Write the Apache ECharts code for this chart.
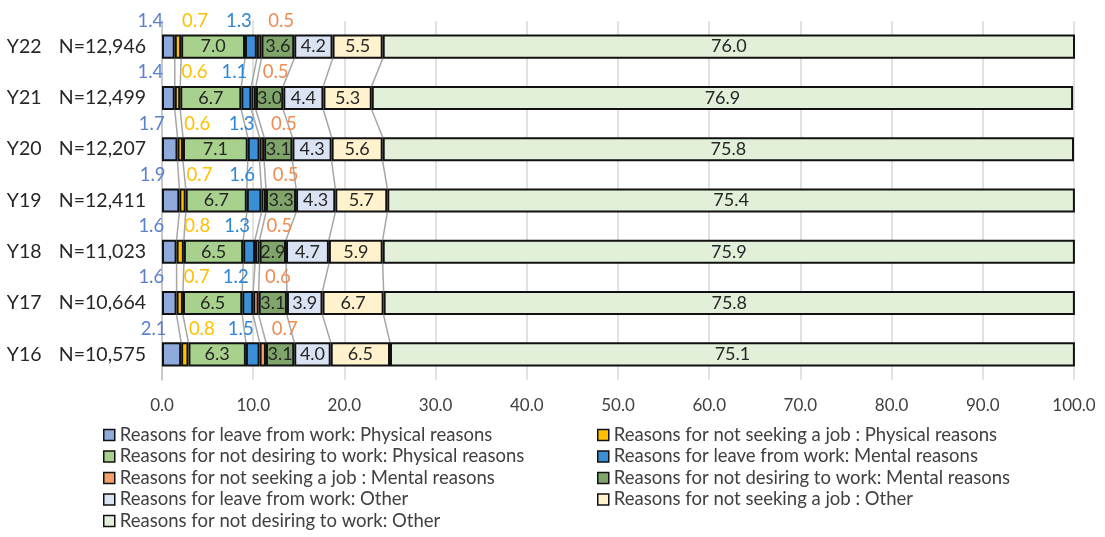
<!DOCTYPE html>
<html>
<head>
<meta charset="utf-8">
<script src="https://cdn.jsdelivr.net/npm/echarts@6/dist/echarts.min.js"></script>
<style>html,body{margin:0;padding:0;background:#fff;}#c{width:1105px;height:537px;}</style>
</head>
<body>
<div id="c"></div>
<script>
// ---- data ----
const years = ['Y22','Y21','Y20','Y19','Y18','Y17','Y16'];
const sampleN = ['N=12,946','N=12,499','N=12,207','N=12,411','N=11,023','N=10,664','N=10,575'];
const seriesNames = [
  'Reasons for leave from work: Physical reasons',
  'Reasons for not seeking a job : Physical reasons',
  'Reasons for not desiring to work: Physical reasons',
  'Reasons for leave from work: Mental reasons',
  'Reasons for not seeking a job : Mental reasons',
  'Reasons for not desiring to work: Mental reasons',
  'Reasons for leave from work: Other',
  'Reasons for not seeking a job : Other',
  'Reasons for not desiring to work: Other'
];
const leavePhysical     = [1.4, 1.4, 1.7, 1.9, 1.6, 1.6, 2.1];
const seekingPhysical   = [0.7, 0.6, 0.6, 0.7, 0.8, 0.7, 0.8];
const desiringPhysical  = [7.0, 6.7, 7.1, 6.7, 6.5, 6.5, 6.3];
const leaveMental       = [1.3, 1.1, 1.3, 1.6, 1.3, 1.2, 1.5];
const seekingMental     = [0.5, 0.5, 0.5, 0.5, 0.5, 0.6, 0.7];
const desiringMental    = [3.6, 3.0, 3.1, 3.3, 2.9, 3.1, 3.1];
const leaveOther        = [4.2, 4.4, 4.3, 4.3, 4.7, 3.9, 4.0];
const seekingOther      = [5.5, 5.3, 5.6, 5.7, 5.9, 6.7, 6.5];
const desiringOther     = [76.0, 76.9, 75.8, 75.4, 75.9, 75.8, 75.1];
const xTicks = [0,10,20,30,40,50,60,70,80,90,100];

const allValues = [leavePhysical, seekingPhysical, desiringPhysical, leaveMental, seekingMental, desiringMental, leaveOther, seekingOther, desiringOther];

// ---- styles ----
const colors = ['#8FAADC','#FFC000','#A9D18E','#3B8FD7','#F4A06A','#7FA56A','#DAE3F3','#FFF2CC','#E2F0D9'];
const outerLabelColors = ['#5A80CE','#FFC000',null,'#2E86D6','#F08C50'];
const outerOffsets = [[-18,0],[17,0],null,[-12,0],[22,0]];
const FONT = 'Lato';
const BAR_RATIO = 0.47;

// cumulative boundaries for series lines
const cum = years.map((_, i) => {
  let s = 0; const out = [];
  for (let k = 0; k < allValues.length - 1; k++) { s += allValues[k][i]; out.push(s); }
  return out;
});

const series = allValues.map((vals, k) => {
  const outer = outerLabelColors[k];
  return {
    name: seriesNames[k],
    type: 'bar',
    stack: 'total',
    barWidth: (BAR_RATIO*100) + '%',
    data: vals,
    z: 3,
    itemStyle: { color: colors[k], borderColor: '#111', borderWidth: 2 },
    emphasis: { disabled: true },
    label: outer ? {
      show: true, position: 'top', distance: 4, offset: outerOffsets[k],
      color: outer, fontFamily: FONT, fontSize: 18.5,
      formatter: p => p.value.toFixed(1)
    } : {
      show: true, position: 'inside',
      color: '#262626', fontFamily: FONT, fontSize: 18,
      formatter: p => p.value.toFixed(1)
    }
  };
});

series.push({
  type: 'custom',
  name: 'seriesLines',
  z: 1,
  silent: true,
  data: years.slice(0, -1).map((_, i) => [0, i]),
  encode: { x: 0, y: 1 },
  renderItem: function (params, api) {
    const i = params.dataIndex;
    const band = api.size([0, 1])[1];
    const h = band * BAR_RATIO / 2;
    const children = cum[i].map((b, k) => {
      const p1 = api.coord([b, i]);
      const p2 = api.coord([cum[i + 1][k], i + 1]);
      return {
        type: 'line',
        shape: { x1: p1[0], y1: p1[1] + h, x2: p2[0], y2: p2[1] - h },
        style: { stroke: '#A6A6A6', lineWidth: 1.5 }
      };
    });
    return { type: 'group', children: children };
  }
});

const leftNames = [0,2,4,6,8].map(k => seriesNames[k]);
const rightNames = [1,3,5,7].map(k => seriesNames[k]);
const legendBase = {
  orient: 'vertical', icon: 'rect', itemWidth: 11, itemHeight: 11, itemGap: 1.5, itemTextGap: 6,
  selectedMode: false, padding: 0, height: 130,
  textStyle: { fontFamily: FONT, fontSize: 18.5, color: '#404040', lineHeight: 20 },
  itemStyle: { borderColor: '#111', borderWidth: 1.5 }
};

const chart = echarts.init(document.getElementById('c'));
chart.setOption({
  animation: false,
  color: colors,
  grid: { left: 162, right: 31, top: 21, bottom: 157, containLabel: false },
  xAxis: {
    type: 'value', min: 0, max: 100, interval: 10,
    axisLine: { show: false }, axisTick: { show: false },
    splitLine: { show: true, lineStyle: { color: '#D9D9D9', width: 1.5 } },
    axisLabel: { margin: 17, fontFamily: FONT, fontSize: 17, color: '#404040',
      formatter: v => xTicks.indexOf(v) >= 0 ? v.toFixed(1) : '' }
  },
  yAxis: {
    type: 'category', inverse: true, data: years,
    axisLine: { show: true, lineStyle: { color: '#BFBFBF', width: 1.5 } },
    axisTick: { show: false },
    axisLabel: {
      margin: 16,
      formatter: (v, idx) => '{y|' + v + '}{n|' + sampleN[idx] + '}',
      rich: {
        y: { width: 52, align: 'left', fontFamily: FONT, fontSize: 19.5, color: '#262626' },
        n: { fontFamily: FONT, fontSize: 19.5, color: '#262626' }
      }
    }
  },
  legend: [
    Object.assign({}, legendBase, { left: 103, top: 425, data: leftNames }),
    Object.assign({}, legendBase, { left: 597, top: 425, data: rightNames })
  ],
  series: series
});
</script>
</body>
</html>
